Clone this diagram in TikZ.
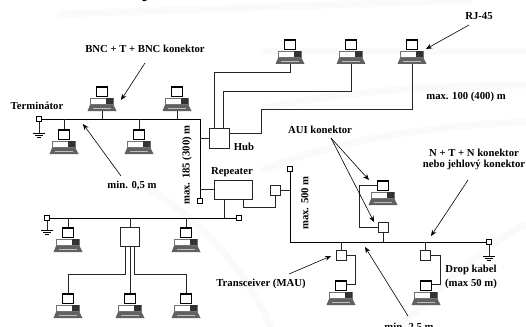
\documentclass[tikz,border=0pt]{standalone}
\usepackage{fontspec}
\setmainfont{Liberation Serif}
\usetikzlibrary{arrows.meta}
\tikzset{
  x=1pt,y=-1pt,
  wire/.style={line width=0.7pt,black!85},
  bus/.style={line width=0.85pt,black},
  boxnode/.style={draw,line width=0.7pt,black!85,fill=white,inner sep=0pt,minimum width=#1,minimum height=#1},
  term/.style={draw,line width=0.8pt,black,fill=white,inner sep=0pt,minimum size=4.5pt},
  lab/.style={font=\bfseries\fontsize{10.7}{12}\selectfont,inner sep=0pt,align=center},
  pointer/.style={line width=0.6pt,black,-{Stealth[length=6pt,width=5pt]}},
  band/.style={line width=7pt,black!2,line cap=round},
  pc/.pic={
    \coordinate (-top) at (0,0);
    \coordinate (-bot) at (0,25);
    \coordinate (-left) at (-6,5);
    \coordinate (-right) at (6,4);
    \draw[line width=1.6pt,black,fill=white] (-5.4,0.8) rectangle (5.4,10.4);
    \draw[line width=0.6pt,black!55,fill=white] (-12,12.3) rectangle (11.5,18);
    \fill[black!80] (3.8,12.4) rectangle (11.3,18);
    \fill[black!62] (-12,19) -- (11.5,19) -- (14.5,25) -- (-14.5,25) -- cycle;
    \draw[line width=0.5pt,white!75!black] (-9,22) -- (9,22);
  }
}
\begin{document}
\begin{tikzpicture}
\useasboundingbox (0,0) rectangle (526,326);
\clip (0,0) rectangle (526,326);
% faint background swooshes
\draw[band] (60,14) .. controls (250,8) and (350,4) .. (470,0);
\draw[band] (263,52) -- (526,52);
\draw[band] (263,108) .. controls (350,90) and (450,85) .. (526,85);
\draw[band] (263,170) .. controls (350,135) and (450,125) .. (526,122);
\draw[band] (150,190) .. controls (220,230) and (260,300) .. (270,326);
\draw[band] (400,326) .. controls (450,280) and (490,240) .. (526,225);
% title, cut off by the top edge: only descenders show
\node[font=\bfseries\fontsize{24}{24}\selectfont,inner sep=0pt,anchor=base] (titleA) at (148,-3.5) {y};
\node[font=\bfseries\fontsize{24}{24}\selectfont,inner sep=0pt,anchor=base] (titleB) at (387,-5) {)};
% computers
\pic (pa) at (102,86) {pc};
\pic (pb) at (177,86) {pc};
\pic (pc) at (64,129) {pc};
\pic (pd) at (139,129) {pc};
\pic (pe) at (290,39) {pc};
\pic (pf) at (351,39) {pc};
\pic (pg) at (412,39) {pc};
\pic (ph) at (68,227) {pc};
\pic (pi) at (186,227) {pc};
\pic (pj) at (68,293) {pc};
\pic (pk) at (130,293) {pc};
\pic (pl) at (186,293) {pc};
\pic (pm) at (383,180) {pc};
\pic (pn) at (341,280) {pc};
\pic (po) at (426,280) {pc};
% terminators and devices
\node[term] (t1) at (39,119) {};
\coordinate (c1) at (200,119);
\node[term] (t2) at (200,201) {};
\node[term] (t3) at (47,218) {};
\node[term] (t4) at (239,218) {};
\node[term] (t5) at (290,169) {};
\coordinate (c3) at (290,242);
\node[term] (t6) at (489,242) {};
\node[boxnode=20pt] (hub) at (219,138) {};
\node[draw,line width=0.7pt,black!85,fill=white,inner sep=0pt,minimum width=38pt,minimum height=19pt] (rep) at (233,189.5) {};
\node[boxnode=19pt] (mpr) at (130,236.5) {};
\node[boxnode=10pt] (tr0) at (275,190) {};
\node[boxnode=10pt] (aui) at (383.5,227) {};
\node[boxnode=10pt] (tr1) at (341,255) {};
\node[boxnode=10pt] (tr2) at (425.5,255) {};
% ground symbols
\foreach \t/\gx/\gy in {t1/39/133,t3/47/230,t6/489/256}{
  \coordinate (g\t) at (\gx,\gy);
  \draw[wire] (\t) -- (g\t);
  \draw[line width=0.7pt] ([xshift=-6pt]g\t) -- ([xshift=6pt]g\t);
  \draw[line width=0.6pt] ([xshift=-4pt,yshift=-2pt]g\t) -- ([xshift=4pt,yshift=-2pt]g\t);
  \draw[line width=0.6pt] ([xshift=-2pt,yshift=-4pt]g\t) -- ([xshift=2pt,yshift=-4pt]g\t);
}
% thick cables
\draw[bus] (t1) -- (c1) -- (t2);
\draw[bus] (t3) -- (t4);
\draw[bus] (t5) -- (c3) -- (t6);
% stems to the buses
\draw[wire] (pa-bot) -- (pa-bot |- t1);
\draw[wire] (pb-bot) -- (pb-bot |- t1);
\draw[wire] (pc-top) -- (pc-top |- t1);
\draw[wire] (pd-top) -- (pd-top |- t1);
\draw[wire] (ph-top) -- (ph-top |- t3);
\draw[wire] (pi-top) -- (pi-top |- t3);
\draw[wire] (mpr.north) -- (mpr.north |- t3);
% hub
\draw[wire] (hub.west) -- (hub.west -| c1);
\draw[wire] ([xshift=-5pt]hub.north) |- (pe-bot |- 0,72) -- (pe-bot);
\draw[wire] ([xshift=4pt]hub.north) |- (pf-bot |- 0,91) -- (pf-bot);
\draw[wire] ([yshift=5pt]hub.east) -- (261,133) |- (pg-bot |- 0,109) -- (pg-bot);
% repeater
\draw[wire] (rep.west) -- (rep.west -| c1);
\draw[wire] ([xshift=-9pt]rep.south) -- ([xshift=-9pt]rep.south |- t3);
\draw[wire] ([xshift=10pt]rep.south) |- (tr0.south |- 0,207) -- (tr0.south);
\draw[wire] (tr0.east) -- (tr0.east -| t5);
% multiport box to lower computers
\draw[wire] ([xshift=-4.5pt]mpr.south) |- (pj-top |- 0,274) -- (pj-top);
\draw[wire] (mpr.south) -- (pk-top);
\draw[wire] ([xshift=4.5pt]mpr.south) |- (pl-top |- 0,274) -- (pl-top);
% right segment
\draw[wire] (aui.south) -- (aui.south |- c3);
\draw[wire] (aui.west) -- (359,227) |- (pm-left);
\draw[wire] (tr1.north) -- (tr1.north |- c3);
\draw[wire] (tr2.north) -- (tr2.north |- c3);
\draw[wire] (tr1.east) -- (355,255) |- (pn-right);
\draw[wire] (tr2.east) -- (440,255) |- (po-right);
% labels
\node[lab] (lbnc) at (145,49) {BNC + T + BNC konektor};
\node[lab] (lterm) at (37,106) {Terminátor};
\node[lab] (lmin0) at (132,186) {min. 0,5 m};
\node[lab] (lrj) at (479,16) {RJ-45};
\node[lab] (l100) at (466,97) {max. 100 (400) m};
\node[lab] (laui) at (320,130) {AUI konektor};
\node[lab] (lntn) at (474,159.5) {N + T + N konektor\\[-0.5pt]nebo jehlový konektor};
\node[lab] (lhub) at (244,147) {Hub};
\node[lab] (lrep) at (232,172) {Repeater};
\node[lab,rotate=90] (l185) at (187,165) {max. 185 (300) m};
\node[lab,rotate=90] (l500) at (305,203) {max. 500 m};
\node[lab] (lmau) at (261,284) {Transceiver (MAU)};
\node[lab] (ldrop) at (471,277) {Drop kabel\\[2pt](max 50 m)};
\node[lab] (lmin2) at (409,328) {min. 2,5 m};
% pointers
\coordinate (a1s) at (145,63); \coordinate (a1e) at (121,100);
\coordinate (a2s) at (121,176); \coordinate (a2e) at (83,124);
\coordinate (a3s) at (469,25); \coordinate (a3e) at (426,49);
\coordinate (a4s) at (331,138); \coordinate (a4e) at (369,180); \coordinate (a5e) at (374,222);
\coordinate (a6s) at (468,180); \coordinate (a6e) at (431,236);
\coordinate (a7s) at (289,274); \coordinate (a7e) at (331,256);
\coordinate (a8s) at (408,316); \coordinate (a8e) at (365,247);
\draw[pointer] (a1s) -- (a1e);
\draw[pointer] (a2s) -- (a2e);
\draw[pointer] (a3s) -- (a3e);
\draw[pointer] (a4s) -- (a4e);
\draw[pointer] (a4s) -- (a5e);
\draw[pointer] (a6s) -- (a6e);
\draw[pointer] (a7s) -- (a7e);
\draw[pointer] (a8s) -- (a8e);
\end{tikzpicture}
\end{document}
